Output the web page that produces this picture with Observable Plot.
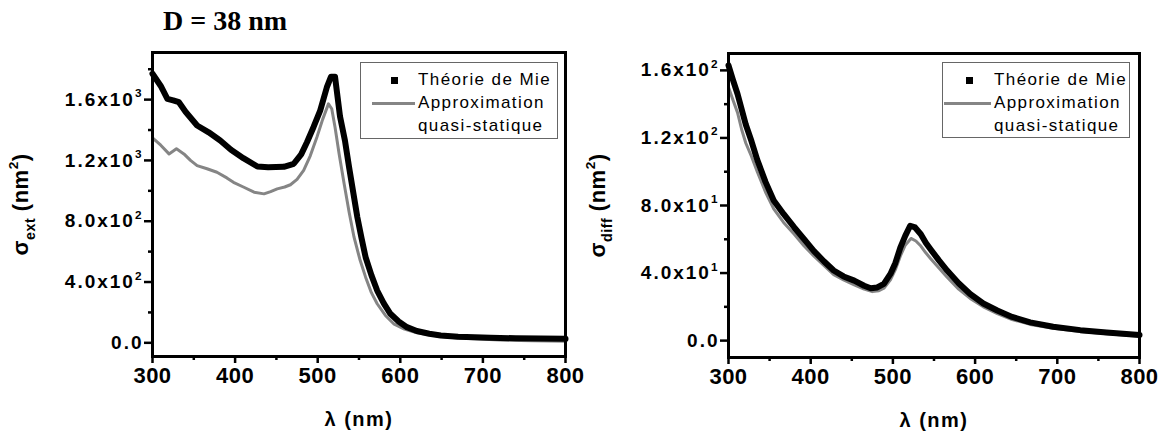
<!DOCTYPE html>
<html>
<head>
<meta charset="utf-8">
<script src="https://cdn.jsdelivr.net/npm/d3@7"></script>
<script src="https://cdn.jsdelivr.net/npm/@observablehq/plot@0.6"></script>
<style>
  body { margin: 0; background: #fff; }
  #wrap { position: relative; width: 1171px; height: 435px; overflow: hidden; font-family: "Liberation Sans", Arial, sans-serif; }
  #title { position: relative; height: 40px; }
  #title span { position: absolute; left: 163px; top: 7px; font-family: "Liberation Serif", "Times New Roman", serif; font-weight: bold; font-size: 28px; line-height: 28px; white-space: nowrap; }
  #row { display: flex; height: 395px; }
  #row svg { display: block; }
  g[aria-label="x-axis tick label"] { font-size: 22px; font-weight: bold; letter-spacing: 0.5px; }
  g[aria-label="y-axis tick label"] { font-size: 19px; font-weight: bold; letter-spacing: 2px; }
  g[aria-label="x-axis label"] { font-size: 20px; font-weight: bold; letter-spacing: 1.5px; }
  g[aria-label="y-axis label"] { font-size: 22px; font-weight: bold; letter-spacing: 0.5px; }
  .legend { position: absolute; border: 1px solid #666; background: #fff; box-sizing: border-box; padding-top: 5px; }
  .legend .item { display: flex; align-items: center; height: 23px; }
  .legend .sym { position: relative; height: 23px; flex: none; }
  .legend .txt { font-size: 17px; letter-spacing: 1.4px; color: #000; white-space: nowrap; line-height: 23px; }
</style>
</head>
<body>
<div id="wrap">
  <div id="title"><span></span></div>
  <div id="row"></div>
</div>
<script>
// ---------- Data ----------
const titleText = "D = 38 nm";
const seriesNames = ["Théorie de Mie", "Approximation", "quasi-statique"];
const xLabel = "λ (nm)";
const yLabelExt = "σ_{ext} (nm^{2})";
const yLabelDiff = "σ_{diff} (nm^{2})";

const xTicks = [300, 400, 500, 600, 700, 800];
const xMinorTicks = [350, 450, 550, 650, 750];

const yTicksExt = [0, 400, 800, 1200, 1600];
const yTickLabelsExt = ["0.0", "4.0x10^{2}", "8.0x10^{2}", "1.2x10^{3}", "1.6x10^{3}"];
const yMinorTicksExt = [200, 600, 1000, 1400, 1800];

const yTicksDiff = [0, 40, 80, 120, 160];
const yTickLabelsDiff = ["0.0", "4.0x10^{1}", "8.0x10^{1}", "1.2x10^{2}", "1.6x10^{2}"];
const yMinorTicksDiff = [20, 60, 100, 140];

// Extinction cross-section, Mie theory
const lambdaExtMie = [300, 310, 318, 325, 332, 340, 354, 368, 382, 395, 410, 427, 440, 459, 471, 480, 487, 495, 503, 511, 516, 521, 527, 533, 538, 543, 548, 553, 558, 565, 572, 580, 588, 598, 608, 620, 635, 649, 670, 690, 709, 740, 770, 800];
const sigmaExtMie  = [1770, 1690, 1605, 1595, 1583, 1520, 1430, 1385, 1331, 1270, 1215, 1160, 1155, 1158, 1178, 1240, 1320, 1420, 1528, 1680, 1750, 1750, 1490, 1330, 1155, 990, 826, 690, 563, 445, 344, 260, 191, 140, 103, 78, 60, 48, 40, 36, 33, 30, 28, 26];

// Extinction cross-section, quasi-static approximation
const lambdaExtQS = [300, 310, 320, 329, 338, 346, 354, 366, 378, 390, 398, 410, 423, 435, 443, 451, 460, 467, 475, 483, 491, 499, 506, 513, 517, 521, 526, 532, 538, 544, 551, 558, 565, 572, 582, 592, 605, 617, 628, 650, 670, 689, 720, 760, 800];
const sigmaExtQS  = [1349, 1300, 1243, 1276, 1243, 1200, 1166, 1145, 1122, 1085, 1056, 1025, 991, 980, 995, 1013, 1025, 1040, 1075, 1134, 1230, 1353, 1470, 1572, 1540, 1418, 1240, 1046, 860, 695, 550, 432, 330, 257, 180, 125, 90, 70, 59, 42, 32, 26, 19, 14, 10];

// Scattering cross-section, Mie theory
const lambdaDiffMie = [300, 305, 311, 316, 321, 328, 335, 345, 355, 367, 380, 392, 404, 416, 428, 440, 453, 465, 473, 481, 489, 497, 503, 509, 515, 521, 527, 534, 540, 546, 556, 566, 580, 594, 610, 627, 645, 667, 695, 728, 760, 800];
const sigmaDiffMie  = [163, 155, 146, 137, 128, 118, 107, 94, 83, 75, 67, 60, 53, 47, 41.5, 38, 35.5, 32.5, 31, 31.5, 33.6, 39.5, 46, 55, 62, 68, 67, 63, 58, 54, 47.5, 41.5, 34, 27.6, 22, 17.8, 14, 10.8, 8.2, 6.2, 4.8, 3.3];

// Scattering cross-section, quasi-static approximation
const lambdaDiffQS = [300, 305, 311, 316, 321, 328, 335, 345, 355, 367, 380, 392, 404, 416, 428, 440, 453, 465, 475, 483, 489, 497, 503, 509, 515, 522, 528, 534, 540, 546, 556, 566, 580, 594, 610, 627, 645, 667, 695, 728, 760, 800];
const sigmaDiffQS  = [150, 143, 135, 125, 117, 109, 100, 88, 78, 70, 63, 56, 50, 44.5, 39, 36, 33, 30.5, 29, 29.5, 31, 36, 42, 50, 56.5, 60.5, 59, 56, 52, 48.5, 43, 37.5, 30.5, 25, 20, 16, 12.5, 9.6, 7.3, 5.4, 4, 2.6];

// ---------- Helpers ----------
const toRows = (ls, ss) => ls.map((l, i) => ({lambda: l, sigma: ss[i]}));
const MIE_COLOR = "#000000";
const QS_COLOR = "#858585";

function richify(svg) {
  svg.querySelectorAll("text").forEach(t => {
    const s = t.textContent;
    if (!/[\^_]\{/.test(s)) return;
    const fs = parseFloat(getComputedStyle(t).fontSize) || 16;
    const parts = s.split(/([\^_]\{[^}]*\})/).filter(p => p.length);
    while (t.firstChild) t.removeChild(t.firstChild);
    let shift = 0;
    parts.forEach(p => {
      const ts = document.createElementNS("http://www.w3.org/2000/svg", "tspan");
      let target = 0, size = null;
      if (p.startsWith("^{")) { target = -0.45 * fs; size = 0.62 * fs; p = p.slice(2, -1); }
      else if (p.startsWith("_{")) { target = 0.3 * fs; size = 0.65 * fs; p = p.slice(2, -1); }
      const d = target - shift;
      if (d !== 0) ts.setAttribute("dy", d);
      shift = target;
      if (size) ts.setAttribute("font-size", size + "px");
      ts.textContent = p;
      t.appendChild(ts);
    });
  });
}

function panel(o) {
  const fmt = new Map(o.yTicks.map((t, i) => [t, o.yLabels[i]]));
  return Plot.plot({
    width: o.width, height: 395,
    marginLeft: o.marginLeft, marginRight: o.marginRight, marginTop: o.marginTop, marginBottom: o.marginBottom,
    style: {fontFamily: '"Liberation Sans", Arial, sans-serif', color: "#000", background: "transparent", overflow: "visible"},
    x: {domain: [300, 800]},
    y: {domain: o.yDomain},
    marks: [
      Plot.line(o.qs, {x: "lambda", y: "sigma", stroke: QS_COLOR, strokeWidth: 3}),
      Plot.line(o.mie, {x: "lambda", y: "sigma", stroke: MIE_COLOR, strokeWidth: 6}),
      Plot.axisX({ticks: xTicks, tickSize: 7, tickPadding: 4, strokeWidth: 2.5, fontWeight: "bold", tickFormat: d => String(d),
        label: xLabel, labelAnchor: "center", labelArrow: "none", labelOffset: 69}),
      Plot.axisX({ticks: xMinorTicks, tickSize: 4, strokeWidth: 2.5, tickFormat: () => "", label: null}),
      Plot.axisY({ticks: o.yTicks, tickSize: 8, tickPadding: 1, strokeWidth: 2.5, fontWeight: "bold", tickFormat: d => fmt.get(d),
        label: o.yLabel, labelAnchor: "center", labelArrow: "none", labelOffset: o.labelOffset}),
      Plot.axisY({ticks: o.yMinor, tickSize: 4, strokeWidth: 2.5, tickFormat: () => "", label: null}),
      Plot.frame({stroke: "#000", strokeWidth: 3})
    ]
  });
}

function legend(o) {
  const box = document.createElement("div");
  box.className = "legend";
  Object.assign(box.style, {left: o.left + "px", top: o.top + "px", width: o.width + "px", height: o.height + "px"});
  const rows = [
    {sym: "square", text: seriesNames[0]},
    {sym: "line", text: seriesNames[1]},
    {sym: null, text: seriesNames[2]}
  ];
  rows.forEach(r => {
    const item = document.createElement("div");
    item.className = "item";
    const sym = document.createElement("div");
    sym.className = "sym";
    sym.style.width = o.symWidth + "px";
    if (r.sym === "square") {
      const sq = document.createElement("div");
      Object.assign(sq.style, {position: "absolute", width: "7px", height: "7px", background: MIE_COLOR, left: (o.squareX - 3.5) + "px", top: "9px"});
      sym.appendChild(sq);
    } else if (r.sym === "line") {
      const ln = document.createElement("div");
      Object.assign(ln.style, {position: "absolute", height: "3px", background: QS_COLOR, left: o.lineX0 + "px", width: (o.lineX1 - o.lineX0) + "px", top: "11px"});
      sym.appendChild(ln);
    }
    const txt = document.createElement("div");
    txt.className = "txt";
    txt.textContent = r.text;
    item.appendChild(sym);
    item.appendChild(txt);
    box.appendChild(item);
  });
  return box;
}

// ---------- Build ----------
document.querySelector("#title span").textContent = titleText;
const row = document.getElementById("row");

const left = panel({
  mie: toRows(lambdaExtMie, sigmaExtMie), qs: toRows(lambdaExtQS, sigmaExtQS),
  yDomain: [-90, 1910], yTicks: yTicksExt, yLabels: yTickLabelsExt, yMinor: yMinorTicksExt, yLabel: yLabelExt,
  width: 585, marginLeft: 152, marginRight: 20, marginTop: 12, marginBottom: 79, labelOffset: 140
});
const right = panel({
  mie: toRows(lambdaDiffMie, sigmaDiffMie), qs: toRows(lambdaDiffQS, sigmaDiffQS),
  yDomain: [-10, 170], yTicks: yTicksDiff, yLabels: yTickLabelsDiff, yMinor: yMinorTicksDiff, yLabel: yLabelDiff,
  width: 586, marginLeft: 143, marginRight: 32, marginTop: 13, marginBottom: 78, labelOffset: 139
});
row.appendChild(left);
row.appendChild(right);
richify(left);
richify(right);

const wrap = document.getElementById("wrap");
wrap.appendChild(legend({left: 360, top: 62, width: 198, height: 77, symWidth: 57, squareX: 33, lineX0: 11, lineX1: 54}));
wrap.appendChild(legend({left: 942, top: 62, width: 188, height: 76, symWidth: 51, squareX: 26, lineX0: 1, lineX1: 48}));
</script>
</body>
</html>
